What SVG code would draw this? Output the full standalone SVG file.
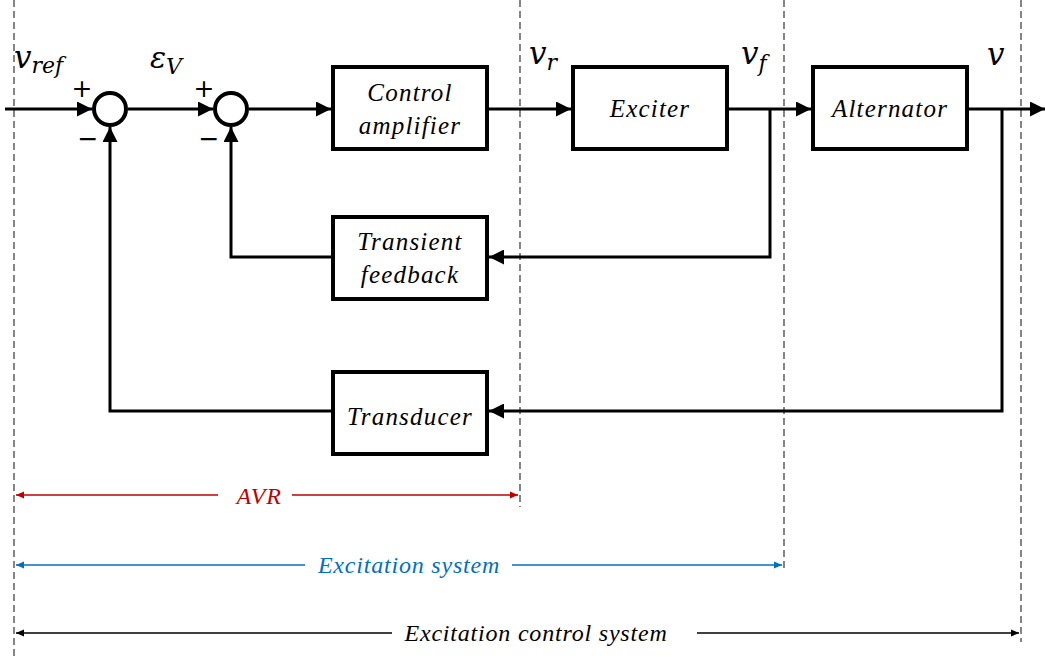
<svg xmlns="http://www.w3.org/2000/svg" width="1045" height="658" viewBox="0 0 1045 658">
  <defs>
    <marker id="arr" markerWidth="5" markerHeight="5" refX="5" refY="2.5" orient="auto" markerUnits="strokeWidth">
      <path d="M0,0 L5,2.5 L0,5 Z" fill="#000"/>
    </marker>
    <marker id="dimR" markerWidth="8" markerHeight="8" refX="8" refY="4" orient="auto-start-reverse" markerUnits="userSpaceOnUse">
      <path d="M0,0.5 L8,4 L0,7.5 Z" fill="#c00000"/>
    </marker>
    <marker id="dimB" markerWidth="8" markerHeight="8" refX="8" refY="4" orient="auto-start-reverse" markerUnits="userSpaceOnUse">
      <path d="M0,0.5 L8,4 L0,7.5 Z" fill="#0070c0"/>
    </marker>
    <marker id="dimK" markerWidth="8" markerHeight="8" refX="8" refY="4" orient="auto-start-reverse" markerUnits="userSpaceOnUse">
      <path d="M0,0.5 L8,4 L0,7.5 Z" fill="#000"/>
    </marker>
  </defs>
  <style>
    .blk { fill: #fff; stroke: #000; stroke-width: 4; }
    .sum { fill: #fff; stroke: #000; stroke-width: 4; }
    .wire { fill: none; stroke: #000; stroke-width: 3; }
    .guide { stroke: #222; stroke-width: 1.1; stroke-dasharray: 7 4; }
    .lbl { font-family: "Liberation Serif", "DejaVu Serif", "Times New Roman", serif; font-style: italic; font-size: 25px; letter-spacing: 1.2px; fill: #000; text-anchor: middle; }
    .math { font-family: "DejaVu Serif", "Liberation Serif", serif; font-style: italic; fill: #000; }
    .sign { font-family: "DejaVu Sans", sans-serif; font-size: 25px; fill: #000; text-anchor: middle; }
    .dim { font-family: "Liberation Serif", "DejaVu Serif", "Times New Roman", serif; font-style: italic; font-size: 24px; letter-spacing: 0.8px; text-anchor: middle; }
  </style>

  <rect width="1045" height="658" fill="#fff"/>

  <!-- boundary guides -->
  <g id="guides">
    <line class="guide" x1="14" y1="0" x2="14" y2="658"/>
    <line class="guide" x1="520" y1="0" x2="520" y2="507"/>
    <line class="guide" x1="784" y1="0" x2="784" y2="572"/>
    <line class="guide" x1="1021" y1="0" x2="1021" y2="642"/>
  </g>

  <!-- connectors -->
  <g id="connectors">
    <line class="wire" x1="5" y1="109" x2="92" y2="109" marker-end="url(#arr)"/>
    <line class="wire" x1="128" y1="109" x2="213" y2="109" marker-end="url(#arr)"/>
    <line class="wire" x1="249" y1="109" x2="331" y2="109" marker-end="url(#arr)"/>
    <line class="wire" x1="487" y1="109" x2="571" y2="109" marker-end="url(#arr)"/>
    <line class="wire" x1="727" y1="109" x2="811" y2="109" marker-end="url(#arr)"/>
    <line class="wire" x1="967" y1="109" x2="1045" y2="109" marker-end="url(#arr)"/>
    <polyline class="wire" points="770,109 770,257 489,257" marker-end="url(#arr)"/>
    <polyline class="wire" points="333,257 231,257 231,127" marker-end="url(#arr)"/>
    <polyline class="wire" points="1002,109 1002,411 489,411" marker-end="url(#arr)"/>
    <polyline class="wire" points="333,411 110,411 110,127" marker-end="url(#arr)"/>
  </g>

  <!-- summing junctions -->
  <g id="sum1">
    <circle class="sum" cx="110" cy="109" r="16"/>
    <text class="sign" x="82" y="97">+</text>
    <text class="sign" x="88" y="147">−</text>
  </g>
  <g id="sum2">
    <circle class="sum" cx="231" cy="109" r="16"/>
    <text class="sign" x="204" y="97">+</text>
    <text class="sign" x="209" y="147">−</text>
  </g>

  <!-- blocks -->
  <g id="control-amplifier">
    <rect class="blk" x="333" y="67" width="154" height="82"/>
    <text class="lbl" x="410" y="101">Control</text>
    <text class="lbl" x="410" y="134">amplifier</text>
  </g>
  <g id="exciter">
    <rect class="blk" x="573" y="67" width="154" height="82"/>
    <text class="lbl" x="650" y="117">Exciter</text>
  </g>
  <g id="alternator">
    <rect class="blk" x="813" y="67" width="154" height="82"/>
    <text class="lbl" x="890" y="117">Alternator</text>
  </g>
  <g id="transient-feedback">
    <rect class="blk" x="333" y="217" width="154" height="82"/>
    <text class="lbl" x="410" y="250">Transient</text>
    <text class="lbl" x="410" y="283">feedback</text>
  </g>
  <g id="transducer">
    <rect class="blk" x="333" y="372" width="154" height="82"/>
    <text class="lbl" x="410" y="425">Transducer</text>
  </g>

  <!-- signal names -->
  <g id="signals">
    <text class="math" x="14" y="68" font-size="31">v<tspan font-size="22" dy="5">ref</tspan></text>
    <text class="math" x="150" y="68" font-size="30">ε<tspan font-size="22" dy="6">V</tspan></text>
    <text class="math" x="529" y="64" font-size="31">v<tspan font-size="22" dy="6">r</tspan></text>
    <text class="math" x="741" y="64" font-size="31">v<tspan font-size="22" dy="7">f</tspan></text>
    <text class="math" x="987" y="65" font-size="31">v</text>
  </g>

  <!-- extent dimensions -->
  <g id="dimensions">
    <line x1="16" y1="495" x2="218" y2="495" stroke="#c00000" stroke-width="1.5" marker-start="url(#dimR)"/>
    <line x1="292" y1="495" x2="518" y2="495" stroke="#c00000" stroke-width="1.5" marker-end="url(#dimR)"/>
    <text class="dim" x="259" y="504" fill="#c00000">AVR</text>

    <line x1="16" y1="565" x2="305" y2="565" stroke="#0070c0" stroke-width="1.5" marker-start="url(#dimB)"/>
    <line x1="512" y1="565" x2="782" y2="565" stroke="#0070c0" stroke-width="1.5" marker-end="url(#dimB)"/>
    <text class="dim" x="409" y="573" fill="#0070c0">Excitation system</text>

    <line x1="16" y1="633" x2="392" y2="633" stroke="#000" stroke-width="1.5" marker-start="url(#dimK)"/>
    <line x1="697" y1="633" x2="1019" y2="633" stroke="#000" stroke-width="1.5" marker-end="url(#dimK)"/>
    <text class="dim" x="536" y="641" fill="#000">Excitation control system</text>
  </g>
</svg>
